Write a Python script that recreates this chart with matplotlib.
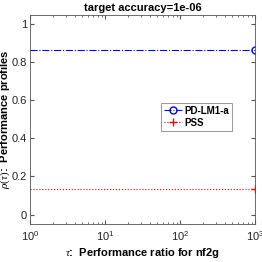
import matplotlib
matplotlib.use("Agg")
import matplotlib.pyplot as plt
import numpy as np

plt.rcParams["font.family"] = ["Liberation Sans", "DejaVu Sans"]
plt.rcParams["mathtext.fontset"] = "custom"
plt.rcParams["mathtext.it"] = "Liberation Serif:italic"
plt.rcParams["mathtext.rm"] = "Liberation Serif"

# performance profile data
tau = [1, 1000]
rho_pdlm = [0.8667, 0.8667]
rho_pss = [0.1333, 0.1333]
labels = ["PD-LM1-a", "PSS"]

fig = plt.figure(figsize=(2.62, 2.62), dpi=100)
ax = fig.add_axes([0.1145, 0.145, 0.859, 0.798])

ax.plot(tau, rho_pdlm, color="blue", linestyle="-.", linewidth=0.8,
        marker="o", markevery=[1], markersize=5, markerfacecolor="none", label=labels[0])
ax.plot(tau, rho_pss, color="red", linestyle=":", linewidth=0.8,
        marker="+", markevery=[1], markersize=6, label=labels[1])

ax.set_xscale("log")
ax.set_xlim(1, 1000)
ax.set_ylim(-0.05, 1.05)
ax.set_yticks([0, 0.2, 0.4, 0.6, 0.8, 1])
ax.set_yticklabels(["0", "0.2", "0.4", "0.6", "0.8", "1"])
ax.tick_params(which="both", direction="in", top=True, right=True, labelsize=8,
               color="#555555", labelcolor="#222222", pad=2)
ax.tick_params(axis="x", pad=4)
ax.tick_params(which="major", length=3)
ax.tick_params(which="minor", length=1.5)
for s in ax.spines.values():
    s.set_color("#555555")
    s.set_linewidth(0.6)

ax.set_title("target accuracy=1e-06", fontsize=8, fontweight="bold", pad=3)
ax.set_xlabel(r"$\tau$:  Performance ratio for nf2g", fontsize=8, fontweight="bold", labelpad=2)
ax.set_ylabel(r"$\rho(\tau)$:  Performance profiles", fontsize=8, fontweight="bold")
ax.yaxis.set_label_coords(-0.08, 0.5)

leg = ax.legend(loc="upper left", bbox_to_anchor=(0.583, 0.58),
                prop=dict(weight="bold", size=7), fancybox=False, framealpha=1,
                edgecolor="#888888", borderpad=0.3, handlelength=1.8,
                handletextpad=0.3, labelspacing=0.2, borderaxespad=0)
leg.get_frame().set_linewidth(0.6)

fig.savefig("out.png", dpi=100)
